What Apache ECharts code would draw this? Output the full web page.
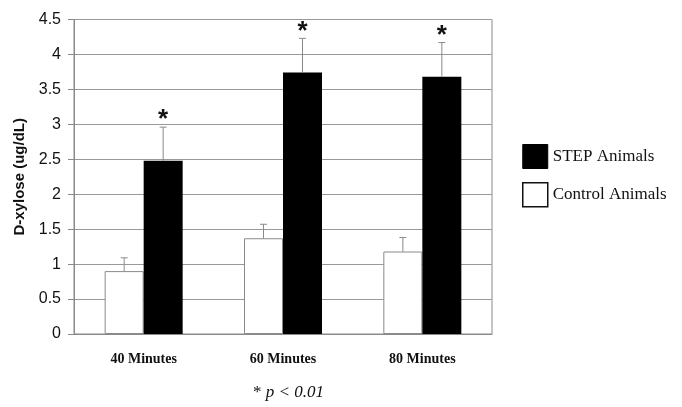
<!DOCTYPE html>
<html>
<head>
<meta charset="utf-8">
<script src="https://cdn.jsdelivr.net/npm/echarts@6/dist/echarts.min.js"></script>
<style>
  html, body { margin: 0; padding: 0; background: #fff; }
  #chart { width: 682px; height: 407px; }
</style>
</head>
<body>
<div id="chart"></div>
<script>
// Serum D-xylose after oral load, STEP vs control animals (mean with upper SD whisker)
const categories = ['40 Minutes', '60 Minutes', '80 Minutes'];
const controlMean = [0.90, 1.37, 1.18];
const controlErr  = [1.09, 1.57, 1.38];   // top of whisker
const stepMean    = [2.48, 3.74, 3.68];
const stepErr     = [2.96, 4.23, 4.17];   // top of whisker
const stepSignificant = [true, true, true];
const yTicks = [0, 0.5, 1, 1.5, 2, 2.5, 3, 3.5, 4, 4.5];

const BAR_W = 39;
const GREY = '#8a8a8a';

function errorSeries(name, tops, means, offset, marks) {
  return {
    type: 'custom',
    name: name + ' SD',
    silent: true,
    z: 5,
    data: categories.map((c, i) => [i, means[i], tops[i]]),
    renderItem: function (params, api) {
      const base = api.coord([api.value(0), api.value(1)]);
      const top = api.coord([api.value(0), api.value(2)]);
      const x = base[0] + offset;
      const cap = 3.5;
      const children = [
        { type: 'line', shape: { x1: x, y1: base[1], x2: x, y2: top[1] },
          style: { stroke: GREY, lineWidth: 1 } },
        { type: 'line', shape: { x1: x - cap, y1: top[1], x2: x + cap, y2: top[1] },
          style: { stroke: GREY, lineWidth: 1 } }
      ];
      if (marks && marks[params.dataIndex]) {
        children.push({
          type: 'text',
          style: {
            text: '*', x: x, y: top[1] - 7,
            textAlign: 'center', textVerticalAlign: 'middle',
            font: 'bold 26px "Liberation Sans", Arial, sans-serif', fill: '#111'
          }
        });
      }
      return { type: 'group', children: children };
    }
  };
}

const chart = echarts.init(document.getElementById('chart'), null, { renderer: 'canvas' });
chart.setOption({
  animation: false,
  backgroundColor: '#fff',
  grid: { left: 74, right: 190, top: 19.5, bottom: 73, show: true, borderColor: GREY, borderWidth: 1 },
  title: {
    text: '{n|* }{i|p < 0.01}',
    left: 248, top: 379,
    textStyle: {
      fontWeight: 'normal',
      rich: {
        n: { fontFamily: '"Liberation Serif", "Times New Roman", serif', fontSize: 17, fontWeight: 'normal', color: '#111' },
        i: { fontFamily: '"Liberation Serif", "Times New Roman", serif', fontSize: 17, fontWeight: 'normal', fontStyle: 'italic', color: '#111' }
      }
    }
  },
  legend: {
    orient: 'vertical',
    left: 517, top: 139,
    itemWidth: 25, itemHeight: 24, itemGap: 13,
    icon: 'rect',
    textStyle: { fontFamily: '"Liberation Serif", "Times New Roman", serif', fontSize: 17, color: '#111', padding: [0, 0, 0, 0] },
    data: [
      { name: 'STEP Animals', itemStyle: { color: '#000', borderColor: '#000', borderWidth: 1 } },
      { name: 'Control Animals', itemStyle: { color: '#fff', borderColor: '#111', borderWidth: 1.5 } }
    ]
  },
  xAxis: {
    type: 'category',
    data: categories,
    axisLine: { show: true, lineStyle: { color: GREY } },
    axisTick: { show: false },
    axisLabel: {
      margin: 18,
      fontFamily: '"Liberation Serif", "Times New Roman", serif',
      fontWeight: 'bold', fontSize: 14, color: '#111'
    }
  },
  yAxis: {
    type: 'value',
    min: 0, max: 4.5, interval: 0.5,
    name: 'D-xylose (ug/dL)',
    nameLocation: 'middle', nameGap: 43,
    nameTextStyle: { fontFamily: '"Liberation Sans", Arial, sans-serif', fontWeight: 'bold', fontSize: 15, color: '#111' },
    axisLine: { show: true, lineStyle: { color: GREY } },
    axisTick: { show: true, length: 6, lineStyle: { color: GREY } },
    splitLine: { show: true, lineStyle: { color: '#999', width: 1 } },
    axisLabel: {
      margin: 13,
      fontFamily: '"Liberation Sans", Arial, sans-serif', fontSize: 16, color: '#111',
      formatter: function (v) { return yTicks.indexOf(v) >= 0 ? String(v) : ''; }
    }
  },
  series: [
    {
      name: 'Control Animals', type: 'bar', data: controlMean,
      barWidth: BAR_W, barGap: '0%',
      itemStyle: { color: '#fff', borderColor: GREY, borderWidth: 1 }
    },
    {
      name: 'STEP Animals', type: 'bar', data: stepMean,
      barWidth: BAR_W, barGap: '0%',
      itemStyle: { color: '#000', borderColor: '#000', borderWidth: 0 }
    },
    errorSeries('Control Animals', controlErr, controlMean, -BAR_W / 2, null),
    errorSeries('STEP Animals', stepErr, stepMean, BAR_W / 2, stepSignificant)
  ]
});
</script>
</body>
</html>
